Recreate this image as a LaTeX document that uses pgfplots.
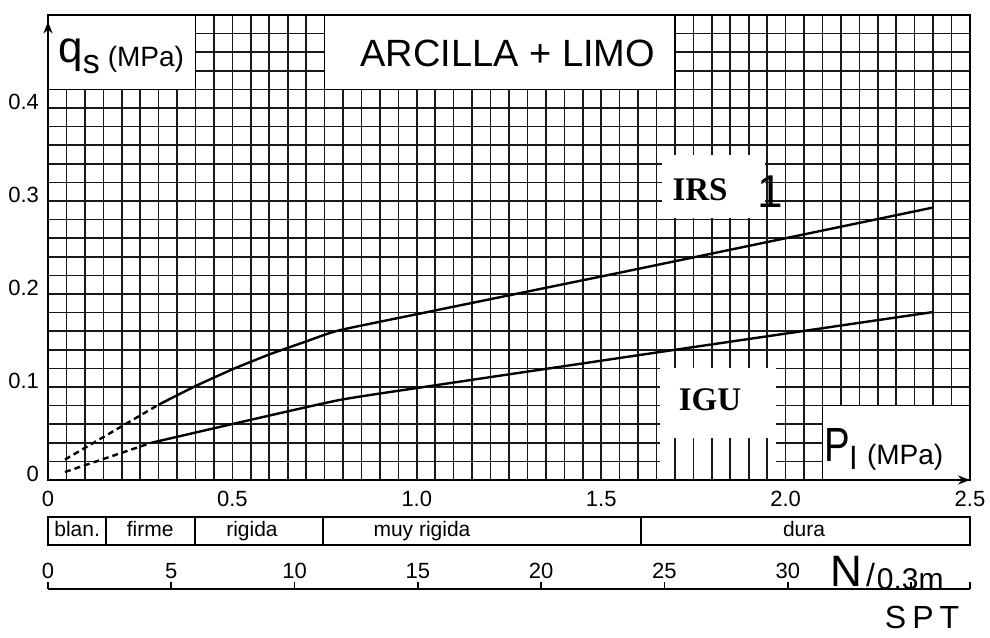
\documentclass[border=0pt]{standalone}
\usepackage{fontspec}
\setmainfont{Liberation Sans}
\newfontfamily\timesf{Liberation Serif}
\usepackage{pgfplots}
\pgfplotsset{compat=1.18}
\usetikzlibrary{arrows.meta}
\newcommand{\fs}[1]{\fontsize{#1}{#1}\selectfont}
\begin{document}
\begin{tikzpicture}
\path[use as bounding box] (-24pt,-78.5pt) rectangle (471pt,240pt);
\begin{axis}[
 at={(0,0)}, anchor=south west,
 width=461pt, height=232.5pt, scale only axis,
 xmin=0, xmax=2.5, ymin=0, ymax=0.5,
 clip=false,
 xtick={0,0.5,1,1.5,2,2.5},
 xticklabels={0,0.5,1.0,1.5,2.0,2.5},
 ytick={0,0.1,0.2,0.3,0.4,0.5},
 yticklabels={0,0.1,0.2,0.3,0.4,{}},
 minor x tick num=9,
 minor y tick num=4,
 grid=both,
 minor grid style={black!90, line width=0.8pt},
 major grid style={black!90, line width=0.8pt},
 major tick length=0pt, minor tick length=0pt,
 tick label style={font=\fs{11}},
 xticklabel style={yshift=-2pt},
 yticklabel style={yshift=3pt, xshift=-1pt},
 axis line style={line width=1pt},
]
% white boxes
\fill[white] (axis cs:1.665,0.282) rectangle (axis cs:1.944,0.349);
\fill[white] (axis cs:1.66,0) rectangle (axis cs:1.975,0.12);
\pgfplotsinvokeforeach{1.7,1.75,1.8,1.85,1.9,1.95}{\draw[black!90,line width=0.8pt] (axis cs:#1,0) -- (axis cs:#1,0.045);}
\draw[black,line width=0.8pt,fill=white] (axis cs:0,0.42) rectangle (axis cs:0.4,0.5);
\draw[black,line width=0.8pt,fill=white] (axis cs:0.75,0.42) rectangle (axis cs:1.70,0.5);
\draw[black,line width=0.8pt,fill=white] (axis cs:2.1,0) rectangle (axis cs:2.5,0.08);
% IRS curve
\addplot[black, line width=1.2pt, dash pattern=on 3pt off 2pt] coordinates {(0.046,0.022)(0.30,0.081)};
\addplot[black, line width=1.2pt, smooth, tension=0.3] coordinates {(0.30,0.081)(0.4,0.101)(0.5,0.119)(0.6,0.135)(0.7,0.149)(0.79,0.161)(1.046,0.182)(1.6,0.227)(2.4,0.293)};
% IGU curve
\addplot[black, line width=1.2pt, dash pattern=on 3pt off 2pt] coordinates {(0.046,0.0086)(0.28,0.040)};
\addplot[black, line width=1.2pt, smooth, tension=0.3] coordinates {(0.28,0.040)(0.52,0.062)(0.79,0.086)(1.046,0.1016)(1.7,0.140)(2.4,0.1806)};
% frame and arrows
\draw[line width=1pt] (axis cs:0,0) rectangle (axis cs:2.5,0.5);
\draw[line width=1.4pt] (axis cs:0,0.5) -- (axis cs:2.5,0.5);
\draw[line width=1pt,-{Stealth[length=6pt,width=4.5pt]}] (axis cs:0,0.46) -- (axis cs:0,0.493);
\draw[line width=1pt,-{Stealth[length=6pt,width=4.5pt]}] (axis cs:2.44,0) -- (axis cs:2.5,0);
% labels in plot
\node[anchor=base west,inner sep=0] at (axis cs:0.027,0.449) {\fs{22}q\raisebox{-5.5pt}{\fs{17}s}\hspace{4pt}\raisebox{-2pt}{\fs{14}(MPa)}};
\node[inner sep=0] at (axis cs:1.247,0.459) {\fs{19}ARCILLA + LIMO};
\node[inner sep=0] at (axis cs:1.768,0.312) {\timesf\bfseries\fs{16.5}IRS};
\node[inner sep=0] at (axis cs:1.958,0.31) {\fs{23}1};
\node[inner sep=0] at (axis cs:1.795,0.086) {\timesf\bfseries\fs{16.5}IGU};
\node[anchor=base west,inner sep=0] at (axis cs:2.104,0.0194) {\fs{24}\scalebox{0.8}[1]{P}\raisebox{-4pt}{\fs{16}l}\hspace{5pt}\raisebox{-1.5pt}{\fs{14}(MPa)}};
% consistency band
\draw[line width=0.8pt] (axis cs:0,-0.0398) rectangle (axis cs:2.5,-0.0699);
\pgfplotsinvokeforeach{0.157,0.399,0.746,1.608}{\draw[line width=0.8pt] (axis cs:#1,-0.0398) -- (axis cs:#1,-0.0699);}
\node[font=\fs{10.5},anchor=base,inner sep=0] at (axis cs:0.079,-0.0605) {blan.};
\node[font=\fs{10.5},anchor=base,inner sep=0] at (axis cs:0.277,-0.0605) {firme};
\node[font=\fs{10.5},anchor=base,inner sep=0] at (axis cs:0.553,-0.0605) {rigida};
\node[font=\fs{10.5},anchor=base,inner sep=0] at (axis cs:1.014,-0.0605) {muy rigida};
\node[font=\fs{10.5},anchor=base,inner sep=0] at (axis cs:2.05,-0.0605) {dura};
% SPT labels
\node[anchor=base west,inner sep=0] at (axis cs:2.12,-0.114) {\fs{22}N\hspace{2pt}\fs{16}/\hspace{1pt}\raisebox{-1.5pt}{\fs{15}0.3m}};
\node[inner sep=0] at (axis cs:2.37,-0.148) {\fs{16}S\hspace{3pt}P\hspace{3pt}T};
\end{axis}
\begin{axis}[
 at={(0,-54.5pt)}, anchor=north west,
 width=461pt, height=10pt, scale only axis,
 xmin=0, xmax=37.39, ymin=0, ymax=1,
 axis y line=none, axis x line*=top,
 xtick={0,5,10,15,20,25,30,35,37.39},
 xticklabels={0,5,10,15,20,25,30,{},{}},
 tick align=outside,
 major tick length=3.5pt,
 tick style={black,line width=0.9pt},
 axis line style={line width=0.9pt},
 tick label style={font=\fs{11}},
 xticklabel style={yshift=-2pt},
]
\addplot[draw=none] coordinates {(0,0)(37,0)};
\end{axis}
\end{tikzpicture}
\end{document}
